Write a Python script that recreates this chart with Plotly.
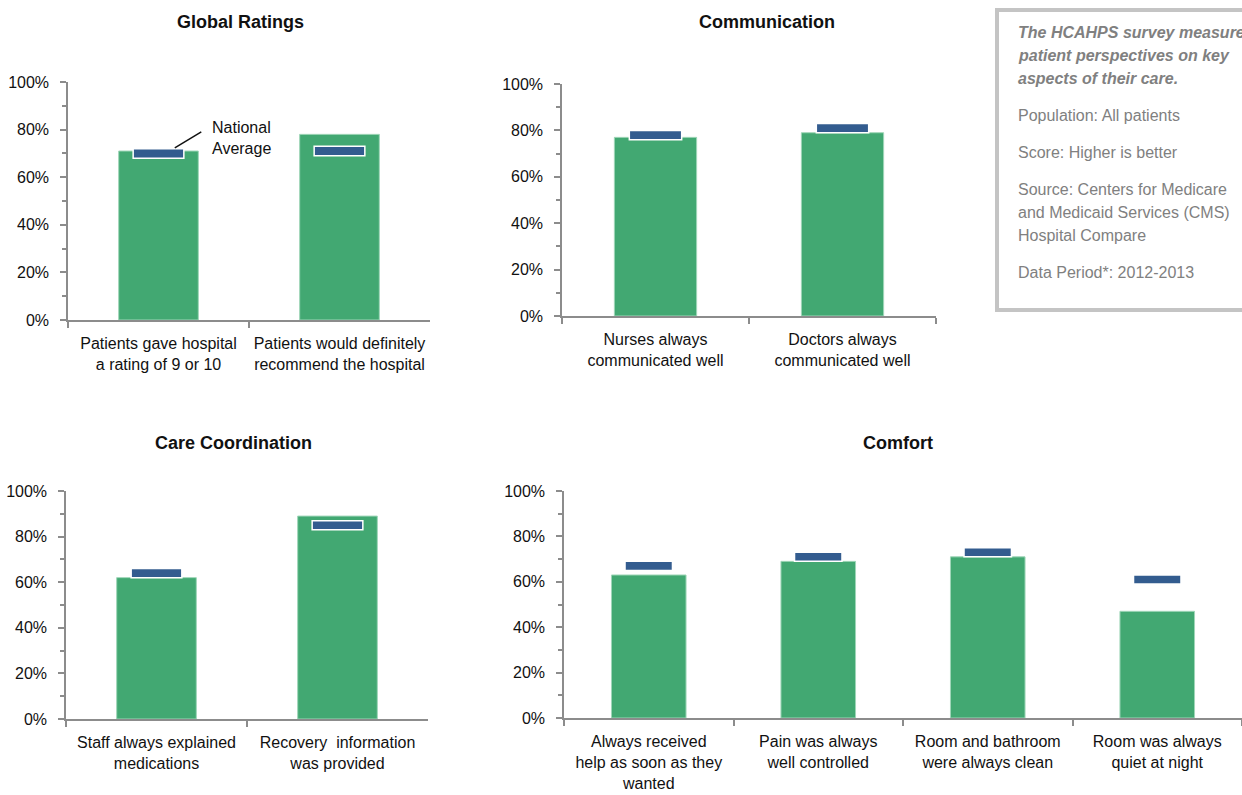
import plotly.graph_objects as go

W, H = 1242, 795

# ---- data ----
global_cats = ["Patients gave hospital<br>a rating of 9 or 10", "Patients would definitely<br>recommend the hospital"]
global_vals = [71, 78]
global_avg = [70, 71]

comm_cats = ["Nurses always<br>communicated well", "Doctors always<br>communicated well"]
comm_vals = [77, 79]
comm_avg = [78, 81]

coord_cats = ["Staff always explained<br>medications", "Recovery  information<br>was provided"]
coord_vals = [62, 89]
coord_avg = [64, 85]

comfort_cats = ["Always received<br>help as soon as they<br>wanted", "Pain was always<br>well controlled",
                "Room and bathroom<br>were always clean", "Room was always<br>quiet at night"]
comfort_vals = [63, 69, 71, 47]
comfort_avg = [67, 71, 73, 61]

panel_titles = ["Global Ratings", "Communication", "Care Coordination", "Comfort"]
ytick_vals = [0, 20, 40, 60, 80, 100]
ytick_text = ["0%", "20%", "40%", "60%", "80%", "100%"]

BAR = "#42A872"
AVG = "#335C8F"
AXC = "#8C8C8C"
GRAY_TXT = "#808080"
FONT = "Liberation Sans, Arial, sans-serif"

# panel pixel boxes: (left, right, top(100%), bottom(0%))
boxes = [(68, 430, 82, 320), (562, 936, 84, 316), (66, 428, 491, 719), (564, 1242, 491, 718)]
datasets = [(global_cats, global_vals, global_avg), (comm_cats, comm_vals, comm_avg),
            (coord_cats, coord_vals, coord_avg), (comfort_cats, comfort_vals, comfort_avg)]

fig = go.Figure()
AVG_HALF = 2.0
for i, ((cats, vals, avg), (l, r, t, b)) in enumerate(zip(datasets, boxes)):
    n = i + 1
    xa = "x" if n == 1 else f"x{n}"
    ya = "y" if n == 1 else f"y{n}"
    fig.add_trace(go.Bar(x=cats, y=vals, xaxis=xa, yaxis=ya, width=0.44,
                         marker=dict(color=BAR, line=dict(color="#9FD6B8", width=1)),
                         showlegend=False, hoverinfo="x+y"))
    fig.add_trace(go.Bar(x=cats, y=[2 * AVG_HALF] * len(avg), base=[a - AVG_HALF for a in avg],
                         xaxis=xa, yaxis=ya, width=0.28,
                         marker=dict(color=AVG, line=dict(color="white", width=1.5)),
                         showlegend=False, hoverinfo="skip"))
    xkey = "xaxis" if n == 1 else f"xaxis{n}"
    ykey = "yaxis" if n == 1 else f"yaxis{n}"
    fig.update_layout(**{
        xkey: dict(domain=[l / W, r / W], anchor=ya, type="category", range=[-0.5, len(cats) - 0.5],
                   tickson="boundaries", ticks="outside", ticklen=6, tickcolor=AXC, tickwidth=1.5,
                   showline=True, linecolor=AXC, linewidth=1.5, showgrid=False, zeroline=False,
                   automargin=False, ticklabelstandoff=8, tickangle=0,
                   tickfont=dict(size=16, color="#111111", family=FONT), fixedrange=True),
        ykey: dict(domain=[1 - b / H, 1 - t / H], anchor=xa, range=[0, 100],
                   tickmode="array", tickvals=ytick_vals, ticktext=ytick_text,
                   ticks="outside", ticklen=6, tickcolor=AXC, tickwidth=1.5,
                   showline=True, linecolor=AXC, linewidth=1.5, showgrid=False, zeroline=False,
                   ticklabelstandoff=8, automargin=False,
                   minor=dict(dtick=10, ticks="outside", ticklen=4, tickcolor=AXC, tickwidth=1.5, showgrid=False),
                   tickfont=dict(size=16, color="#111111", family=FONT), fixedrange=True),
    })

annotations = []
title_pos = [(240, 22), (767, 22), (233, 443), (898, 443)]
for txt, (px, py) in zip(panel_titles, title_pos):
    annotations.append(dict(text=f"<b>{txt}</b>", x=px / W, y=1 - py / H, xref="paper", yref="paper",
                            xanchor="center", yanchor="middle", showarrow=False,
                            font=dict(size=18, color="#111111", family=FONT)))

# National Average callout (anchored to data)
annotations.append(dict(text="", x=0.09, y=72.3, xref="x", yref="y", showarrow=True, arrowhead=0,
                        arrowwidth=1.5, arrowcolor="#111111", ax=28, ay=-17))
annotations.append(dict(text="National<br>Average", x=0.285, y=76.5, xref="x", yref="y", showarrow=False,
                        xanchor="left", yanchor="middle", align="left",
                        font=dict(size=16, color="#111111", family=FONT)))

# Info box text
info_lines = [
    ("<b><i>The HCAHPS survey measures</i></b>", 33),
    ("<b><i>patient perspectives on key</i></b>", 56),
    ("<b><i>aspects of their care.</i></b>", 79),
    ("Population: All patients", 116),
    ("Score: Higher is better", 153),
    ("Source: Centers for Medicare", 190),
    ("and Medicaid Services (CMS)", 213),
    ("Hospital Compare", 236),
    ("Data Period*: 2012-2013", 273),
]
for txt, py in info_lines:
    annotations.append(dict(text=txt, x=1016 / W, y=1 - py / H, xref="paper", yref="paper",
                            xanchor="left", yanchor="middle", showarrow=False,
                            font=dict(size=16, color=GRAY_TXT, family=FONT)))

shapes = [dict(type="rect", xref="paper", yref="paper", x0=997 / W, x1=1270 / W, y0=1 - 310 / H, y1=1 - 10 / H,
               line=dict(color="#C4C4C4", width=4), fillcolor="rgba(0,0,0,0)")]

fig.update_layout(width=W, height=H, margin=dict(l=0, r=0, t=0, b=0, pad=0, autoexpand=False),
                  barmode="overlay",
                  plot_bgcolor="white", paper_bgcolor="white", annotations=annotations, shapes=shapes,
                  font=dict(family=FONT, size=16, color="#111111"), showlegend=False)

fig.write_html("out.html", config={"displayModeBar": False},
               post_script="document.body.style.margin='0px';document.body.style.overflow='hidden';")
